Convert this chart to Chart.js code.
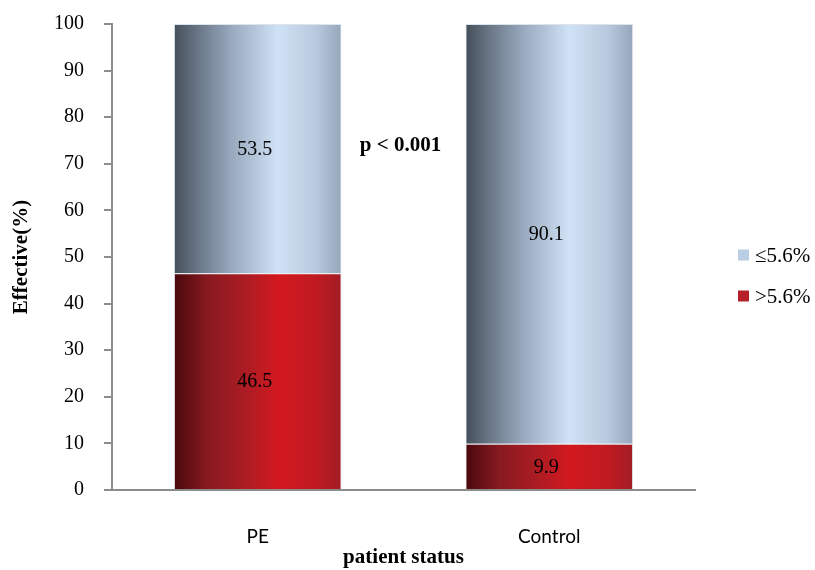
<!DOCTYPE html>
<html>
<head>
<meta charset="utf-8">
<script src="https://cdn.jsdelivr.net/npm/chart.js@4/dist/chart.umd.min.js"></script>
<style>
  html, body { margin: 0; padding: 0; background: #fff; }
  #wrap { width: 815px; height: 570px; }
</style>
</head>
<body>
<div id="wrap"><canvas id="c" width="815" height="570"></canvas></div>
<script>
const categories = ["PE", "Control"];
const seriesNames = [">5.6%", "\u22645.6%"];
const above56 = [46.5, 9.9];
const atOrBelow56 = [53.5, 90.1];
const yTicks = [0, 10, 20, 30, 40, 50, 60, 70, 80, 90, 100];
const pText = "p < 0.001";
const pValueY = 74;

const SERIF = '"Liberation Serif", "Times New Roman", serif';
const CAT_PCT = 0.575;

const redStops = [[0, '#4a080c'], [0.2, '#871a20'], [0.45, '#b01c23'], [0.62, '#d3181f'], [0.85, '#c01a21'], [1, '#a21d24']];
const blueStops = [[0, '#454f59'], [0.15, '#6a7888'], [0.35, '#9aaabf'], [0.62, '#d0e2f5'], [0.85, '#b9c9dd'], [1, '#95a6ba']];

function grad(stops) {
  return function (ctx) {
    const chart = ctx.chart;
    const xs = chart.scales.x;
    if (!xs || !chart.chartArea || ctx.dataIndex === undefined) return stops[3][1];
    const cx = xs.getPixelForValue(ctx.dataIndex);
    const half = (xs.width / chart.data.labels.length) * CAT_PCT / 2;
    const g = chart.ctx.createLinearGradient(cx - half, 0, cx + half, 0);
    stops.forEach(s => g.addColorStop(s[0], s[1]));
    return g;
  };
}

const extrasPlugin = {
  id: 'extras',
  afterDatasetsDraw(chart) {
    const ctx = chart.ctx;
    ctx.save();
    ctx.font = '20px ' + SERIF;
    ctx.fillStyle = '#000';
    ctx.textAlign = 'center';
    ctx.textBaseline = 'middle';
    chart.data.datasets.forEach((ds, di) => {
      const meta = chart.getDatasetMeta(di);
      meta.data.forEach((el, i) => {
        const p = el.getProps(['x', 'y', 'base'], true);
        ctx.fillText(String(ds.data[i]), p.x - 3, (p.y + p.base) / 2 + 1);
      });
    });
    const xs = chart.scales.x, ys = chart.scales.y;
    const mx = (xs.getPixelForValue(0) + xs.getPixelForValue(1)) / 2 - 3;
    ctx.font = 'bold 21px ' + SERIF;
    ctx.fillText(pText, mx, ys.getPixelForValue(pValueY));
    const order = [1, 0];
    const colors = ['#b5202a', '#b9cde4'];
    ctx.font = '21px ' + SERIF;
    ctx.textAlign = 'left';
    order.forEach((di, k) => {
      const yc = 255 + k * 41;
      ctx.fillStyle = colors[di];
      ctx.fillRect(738, yc - 5.5, 11, 11);
      ctx.fillStyle = '#000';
      ctx.fillText(chart.data.datasets[di].label, 755, yc + 1);
    });
    ctx.restore();
  }
};

new Chart(document.getElementById('c'), {
  type: 'bar',
  data: {
    labels: categories,
    datasets: [
      { label: seriesNames[0], data: above56, backgroundColor: grad(redStops), borderWidth: 1, borderColor: 'rgba(215,222,230,0.85)', borderSkipped: 'bottom', categoryPercentage: CAT_PCT, barPercentage: 1 },
      { label: seriesNames[1], data: atOrBelow56, backgroundColor: grad(blueStops), borderWidth: 1, borderColor: 'rgba(215,222,230,0.85)', borderSkipped: 'bottom', categoryPercentage: CAT_PCT, barPercentage: 1 }
    ]
  },
  options: {
    responsive: false,
    animation: false,
    layout: { padding: { top: 24, right: 120, bottom: 0, left: 0 } },
    plugins: { legend: { display: false }, tooltip: { enabled: false } },
    scales: {
      x: {
        stacked: true,
        grid: { display: true, drawOnChartArea: false, drawTicks: false, color: '#8c8c8c' },
        border: { display: true, color: '#8c8c8c', width: 2 },
        ticks: { padding: 35, color: '#000', font: { family: 'Lato, "Open Sans", sans-serif', size: 19 } },
        title: { display: true, text: 'patient status', color: '#000', font: { family: SERIF, size: 21, weight: 'bold' }, padding: { top: 0, bottom: 0 } },
        afterFit(s) { s.height = 80; }
      },
      y: {
        stacked: true,
        min: 0, max: 100,
        afterBuildTicks(s) { s.ticks = yTicks.map(v => ({ value: v })); },
        grid: { display: true, drawOnChartArea: false, drawTicks: true, tickLength: 8, color: '#8c8c8c', lineWidth: 2 },
        border: { display: true, color: '#8c8c8c', width: 2 },
        ticks: { padding: 20, color: '#000', font: { family: SERIF, size: 20 } },
        title: { display: true, text: 'Effective(%)', color: '#000', font: { family: SERIF, size: 21, weight: 'bold' }, padding: { top: 9, bottom: 0 } },
        afterFit(s) { s.width = 112; s.paddingTop = 12; s.paddingBottom = 12; }
      }
    }
  },
  plugins: [extrasPlugin]
});
</script>
</body>
</html>
